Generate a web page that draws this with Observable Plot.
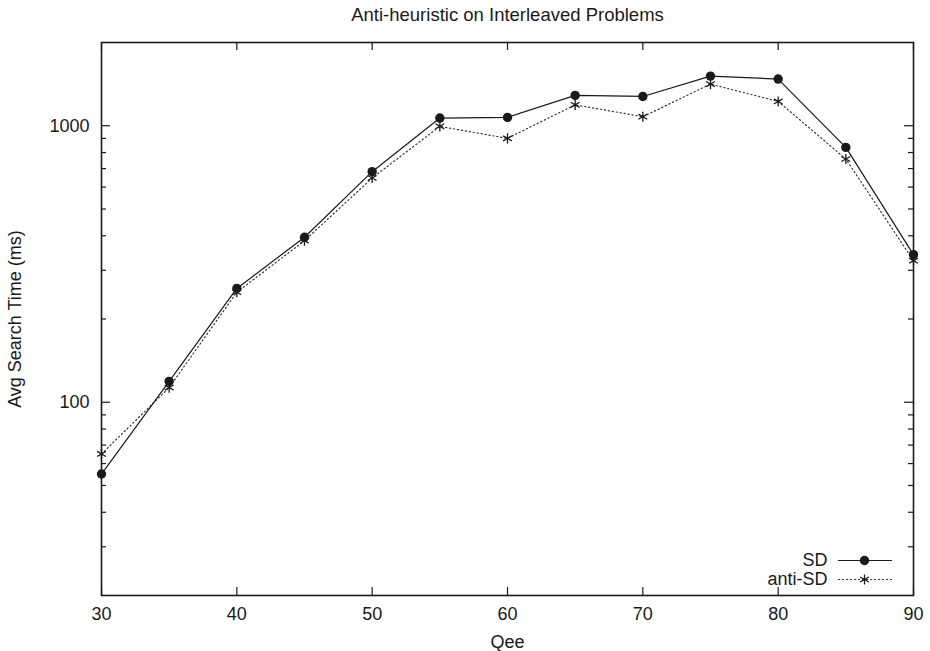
<!DOCTYPE html>
<html><head><meta charset="utf-8">
<script src="https://cdn.jsdelivr.net/npm/d3@7"></script>
<script src="https://cdn.jsdelivr.net/npm/@observablehq/plot@0.6"></script>
<style>body{margin:0;background:#fff}</style>
</head><body><div id="chart"></div>
<script>
const qee = [30, 35, 40, 45, 50, 55, 60, 65, 70, 75, 80, 85, 90];
const sd = [55, 119, 258, 395, 682, 1066, 1072, 1287, 1276, 1512, 1475, 835, 342];
const antiSd = [65, 113, 250, 384, 647, 995, 900, 1190, 1078, 1415, 1224, 758, 325];
const xTicks = [30, 40, 50, 60, 70, 80, 90];
const yMajor = [100, 1000];
const yMinor = [30, 40, 50, 60, 70, 80, 90, 200, 300, 400, 500, 600, 700, 800, 900];
const title = "Anti-heuristic on Interleaved Problems";
const xLabel = "Qee";
const yLabel = "Avg Search Time (ms)";
const seriesNames = ["SD", "anti-SD"];

const W = 930, H = 651, mL = 101, mR = 17, mT = 42, mB = 56;
const fw = W - mL - mR, fh = H - mT - mB;
const ink = "#1a1a1a";
const sdData = qee.map((q, i) => ({q, v: sd[i]}));
const antiData = qee.map((q, i) => ({q, v: antiSd[i]}));
const lineShape = {draw(ctx, l) { ctx.moveTo(0, 0); ctx.lineTo(0, -l); }};
const mid = {lineAnchor: "middle", fill: ink};

const chart = Plot.plot({
  width: W, height: H,
  marginLeft: mL, marginRight: mR, marginTop: mT, marginBottom: mB,
  style: {fontFamily: "'Liberation Sans', Arial, sans-serif", fontSize: "18px", color: ink, background: "#fff"},
  x: {domain: [30, 90]},
  y: {type: "log", domain: [20, 2000]},
  marks: [
    // ticks (inward, mirrored)
    Plot.tickY(yMajor, {y: d => d, insetRight: fw - 9, stroke: ink, strokeWidth: 1.2}),
    Plot.tickY(yMajor, {y: d => d, insetLeft: fw - 9, stroke: ink, strokeWidth: 1.2}),
    Plot.tickY(yMinor, {y: d => d, insetRight: fw - 5, stroke: ink, strokeWidth: 1.2}),
    Plot.tickY(yMinor, {y: d => d, insetLeft: fw - 5, stroke: ink, strokeWidth: 1.2}),
    Plot.tickX(xTicks, {x: d => d, insetTop: fh - 8, stroke: ink, strokeWidth: 1.2}),
    Plot.tickX(xTicks, {x: d => d, insetBottom: fh - 8, stroke: ink, strokeWidth: 1.2}),
    Plot.axisY({ticks: yMajor, tickSize: 0, tickPadding: 12, tickFormat: d => String(d), label: null, fill: ink}),
    Plot.axisX({ticks: xTicks, tickSize: 0, tickPadding: 12, tickFormat: d => String(d), label: null, fill: ink}),
    // data
    Plot.line(antiData, {x: "q", y: "v", stroke: "#333", strokeWidth: 1.2, strokeDasharray: "1.2,2.8"}),
    Plot.line(sdData, {x: "q", y: "v", stroke: ink, strokeWidth: 1.2}),
    Plot.dot(antiData, {x: "q", y: "v", symbol: "asterisk", r: 4.8, stroke: ink, strokeWidth: 1.3}),
    Plot.dot(sdData, {x: "q", y: "v", r: 4.7, fill: ink, stroke: null}),
    Plot.frame({stroke: ink, strokeWidth: 1.6}),
    // texts
    Plot.text([title], {frameAnchor: "top", dy: -27.5, textAnchor: "middle", fontSize: 18.5, ...mid}),
    Plot.text([xLabel], {frameAnchor: "bottom", dy: 47, textAnchor: "middle", ...mid}),
    Plot.text([yLabel], {frameAnchor: "left", dx: -86, rotate: -90, textAnchor: "middle", ...mid}),
    // legend
    Plot.text([seriesNames[0]], {frameAnchor: "bottom-right", dx: -86, dy: -35, textAnchor: "end", ...mid}),
    Plot.text([seriesNames[1]], {frameAnchor: "bottom-right", dx: -86, dy: -16, textAnchor: "end", ...mid}),
    Plot.vector([0], {frameAnchor: "bottom-right", dx: -75, dy: -35, rotate: 90, length: 53, anchor: "start", shape: lineShape, stroke: ink, strokeWidth: 1.2}),
    Plot.vector([0], {frameAnchor: "bottom-right", dx: -75, dy: -16, rotate: 90, length: 53, anchor: "start", shape: lineShape, stroke: "#333", strokeWidth: 1.2, strokeDasharray: "1.2,2.8"}),
    Plot.dot([0], {frameAnchor: "bottom-right", dx: -49, dy: -35, r: 4.7, fill: ink, stroke: null}),
    Plot.dot([0], {frameAnchor: "bottom-right", dx: -49, dy: -16, symbol: "asterisk", r: 4.8, stroke: ink, strokeWidth: 1.3})
  ]
});
document.getElementById("chart").appendChild(chart);
</script>
</body></html>
